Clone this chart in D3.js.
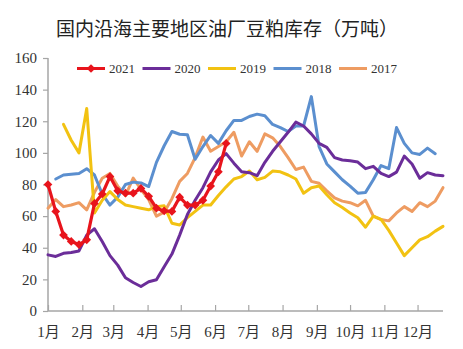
<!DOCTYPE html>
<html><head><meta charset="utf-8">
<script src="https://cdn.jsdelivr.net/npm/d3@7"></script>
<style>body{margin:0;background:#fff}</style>
</head><body>
<svg id="c" width="463" height="349"></svg>
<script>
const title = "国内沿海主要地区油厂豆粕库存（万吨）";
const seriesNames = ["2021","2020","2019","2018","2017"];
const seriesColors = ["#E8141C","#6B2D99","#F2C212","#5B8FCF","#EE9C62"];
const monthLabels = ["1月","2月","3月","4月","5月","6月","7月","8月","9月","10月","11月","12月"];
const yTicks = [0,20,40,60,80,100,120,140,160];
// weekly values, week i = Jan 1 + 7*i days (null = no value)
const v2021 = [80,63,48,44,42,45,68,74,85,76,74.5,74.5,77.5,72.5,65,63.3,63,72,67,67,70,79,88,106];
const v2020 = [35.5,34.5,36.5,37,38,48,52,44,35,29,21,18,15.5,18.5,19.8,28,36,48,61,70,78,88,95.5,99.5,93.5,88,87.5,85.6,94,101,107,113,119.5,117,112,106,103.5,97,95.5,95,94.2,90,91.5,87,85,87.8,98,93,84,87.5,86,85.6];
const v2019 = [null,null,118,108,100,128,62,70,75.5,70.5,67,66,65,64,66,66.5,55.5,54.4,59,63,67,67,73,78.5,83.5,85,88.5,83,84.5,88.5,88,86,83.5,74.5,78,79,73.5,68.5,65.5,62,59,53,60,58,51,43,35,40,45,47,50.5,53.5];
const v2018 = [null,83.5,86,86.5,87,90,86,74,67,72,80,81.5,81,78.7,94,104.5,113.5,111.8,111.5,96,104,111,106,114,120.5,120.5,123,124.5,123.5,118,116,113.5,117,117,135.6,104,93,88,83,79,74.5,75,83,92,90,116,106,100,99,103,99.5,null];
const v2017 = [65,70.5,66,67,68.5,64,75,84,87,79,73,84,77,70.5,60,62.5,71,82,87,97,110,101,104,107,113,98,107,101,112,109.5,104,97,89.5,91,82,80.8,76,71.5,69.5,68.5,66.5,70,60,57.8,57,62,66,63,68.5,66,69.5,78];
const seriesValues = [v2021,v2020,v2019,v2018,v2017];

const svg = d3.select("#c");
const x = d3.scaleUtc().domain([new Date(Date.UTC(2021,0,1)), new Date(Date.UTC(2021,11,24))]).range([48,443]);
const y = d3.scaleLinear().domain([0,160]).range([311,58]);
const dayMs = 86400000;
const wk = i => new Date(Date.UTC(2021,0,1) + 7*i*dayMs);
const serif = "'Liberation Serif','Noto Sans CJK SC',serif";

svg.append("text").attr("x",227).attr("y",27).attr("text-anchor","middle")
  .attr("dominant-baseline","central").attr("font-family","'Noto Sans CJK SC',sans-serif")
  .attr("font-size",19).attr("fill","#222").text(title);

// y axis
const ya = svg.append("g").attr("transform","translate(48,0)")
  .call(d3.axisLeft(y).tickValues(yTicks).tickSize(5).tickPadding(6));
ya.select(".domain").attr("stroke","#a6a6a6").attr("stroke-width",1.5).attr("d","M0,58V311");
ya.selectAll(".tick line").attr("stroke","#a6a6a6").attr("stroke-width",1.2);
ya.selectAll("text").attr("font-family",serif).attr("font-size",15).attr("fill","#333");

// x axis
const monthDates = d3.range(12).map(m => new Date(Date.UTC(2021,m,1)));
const xa = svg.append("g").attr("transform","translate(0,311)")
  .call(d3.axisBottom(x).tickValues(monthDates).tickSize(-6).tickPadding(15).tickFormat((d,i)=>monthLabels[i]));
xa.select(".domain").attr("stroke","#a6a6a6").attr("stroke-width",1.5).attr("d","M48,0H443");
xa.selectAll(".tick line").attr("stroke","#a6a6a6").attr("stroke-width",1.2);
xa.selectAll("text").attr("font-family",serif).attr("font-size",15).attr("fill","#333");

const line = d3.line().defined(d => d.v != null).x(d => x(d.t)).y(d => y(d.v));
const order = [4,3,2,1,0];
order.forEach(k => {
  const pts = seriesValues[k].map((v,i) => ({t: wk(i), v}));
  svg.append("path").datum(pts).attr("d", line).attr("fill","none")
    .attr("stroke", seriesColors[k]).attr("stroke-width", k===0?3.2:3)
    .attr("stroke-linejoin","round").attr("stroke-linecap","round");
  if (k===0) {
    svg.selectAll(".mk").data(pts.filter(d=>d.v!=null)).enter().append("path")
      .attr("d", d3.symbol().type(d3.symbolSquare).size(38))
      .attr("transform", d => `translate(${x(d.t)},${y(d.v)}) rotate(45)`)
      .attr("fill", seriesColors[0]);
  }
});

// legend
const lg = svg.append("g");
seriesNames.forEach((n,i) => {
  const x0 = 77 + i*65.5, yy = 68.5;
  lg.append("line").attr("x1",x0).attr("x2",x0+28).attr("y1",yy).attr("y2",yy)
    .attr("stroke",seriesColors[i]).attr("stroke-width",3);
  if (i===0) lg.append("path").attr("d", d3.symbol().type(d3.symbolSquare).size(38))
    .attr("transform",`translate(${x0+14},${yy}) rotate(45)`).attr("fill",seriesColors[0]);
  lg.append("text").attr("x",x0+32).attr("y",yy).attr("dominant-baseline","central")
    .attr("font-family",serif).attr("font-size",13).attr("fill","#333").text(n);
});
</script>
</body></html>
